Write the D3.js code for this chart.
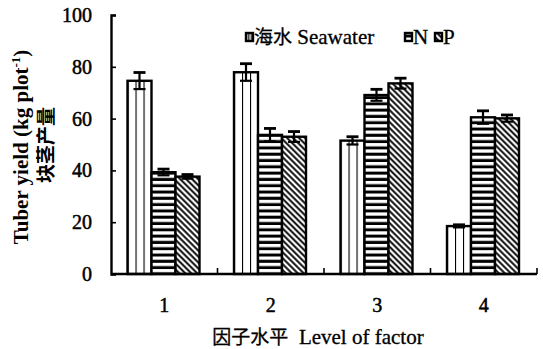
<!DOCTYPE html>
<html>
<head>
<meta charset="utf-8">
<script src="https://cdn.jsdelivr.net/npm/d3@7"></script>
<style>
  body { margin: 0; background: #fff; }
  svg { display: block; }
</style>
</head>
<body>
<div id="chart"></div>
<script>
const levels = ["1", "2", "3", "4"]
const seriesNames = ["Seawater", "N", "P"]
const seawater = [74.6, 77.9, 51.5, 18.5]
const nitrogen = [39.3, 53.7, 69.1, 60.5]
const phosphorus = [37.6, 53, 73.6, 60.1]
const seawaterErr = [3.2, 3.3, 1.5, 0.5]
const nitrogenErr = [1.2, 2.5, 2.2, 2.5]
const phosphorusErr = [0.8, 2, 2, 1.3]
const yTicks = [0, 20, 40, 60, 80, 100]

const width = 543, height = 349
const margin = ({top: 15, right: 6, bottom: 75, left: 111})

const serif = "'Liberation Serif', 'Times New Roman', serif"
const cjk = "'Noto Sans CJK SC', sans-serif"

const svg = d3.create("svg")
    .attr("width", width)
    .attr("height", height)
    .attr("viewBox", [0, 0, width, height])
d3.select("#chart").append(() => svg.node())

// hatch patterns
const defs = svg.append("defs")

// seawater: two vertical lines splitting the bar in thirds
const pSea = defs.append("pattern")
    .attr("id", "pat-sea")
    .attr("patternUnits", "objectBoundingBox")
    .attr("width", 1 / 3).attr("height", 1)
pSea.append("rect").attr("width", 40).attr("height", 400).attr("fill", "#fff")
pSea.append("line").attr("x1", 0).attr("x2", 0).attr("y1", 0).attr("y2", 400)
    .attr("stroke", "#000").attr("stroke-width", 2.2)

const pN = defs.append("pattern")
    .attr("id", "pat-n")
    .attr("patternUnits", "userSpaceOnUse")
    .attr("width", 6).attr("height", 6.3)
pN.append("rect").attr("width", 6).attr("height", 6.3).attr("fill", "#fff")
pN.append("line").attr("x1", 0).attr("x2", 6).attr("y1", 3).attr("y2", 3)
    .attr("stroke", "#000").attr("stroke-width", 3)

const pP = defs.append("pattern")
    .attr("id", "pat-p")
    .attr("patternUnits", "userSpaceOnUse")
    .attr("width", 4.2).attr("height", 4.2)
    .attr("patternTransform", "rotate(-45)")
pP.append("rect").attr("width", 4.2).attr("height", 4.2).attr("fill", "#fff")
pP.append("line").attr("x1", 2.1).attr("x2", 2.1).attr("y1", 0).attr("y2", 4.2)
    .attr("stroke", "#000").attr("stroke-width", 1.9)

const fills = ["url(#pat-sea)", "url(#pat-n)", "url(#pat-p)"]

const data = levels.map((lv, i) => ({
  level: lv,
  values: [
    {key: "Seawater", v: seawater[i], e: seawaterErr[i]},
    {key: "N", v: nitrogen[i], e: nitrogenErr[i]},
    {key: "P", v: phosphorus[i], e: phosphorusErr[i]}
  ]
}))

const x = d3.scaleBand()
    .domain(levels)
    .range([margin.left, width - margin.right])
    .padding(0)

const xs = d3.scaleBand()
    .domain(seriesNames)
    .range([16.5, 16.5 + 72])
    .padding(0)

const y = d3.scaleLinear()
    .domain([0, 100])
    .range([height - margin.bottom, margin.top])

// bars
const groups = svg.append("g")
  .selectAll("g")
  .data(data)
  .join("g")
    .attr("transform", d => `translate(${x(d.level)},0)`)

groups.selectAll("rect")
  .data(d => d.values)
  .join("rect")
    .attr("x", d => xs(d.key))
    .attr("y", d => y(d.v))
    .attr("width", xs.bandwidth())
    .attr("height", d => y(0) - y(d.v))
    .attr("fill", (d, i) => fills[i])
    .attr("stroke", "#000")
    .attr("stroke-width", 2.4)

// error bars
const err = groups.selectAll(".err")
  .data(d => d.values)
  .join("g")
    .attr("class", "err")
    .attr("stroke", "#000")
    .attr("stroke-width", 2.2)
const cx = d => xs(d.key) + xs.bandwidth() / 2
err.append("line")
    .attr("x1", cx).attr("x2", cx)
    .attr("y1", d => y(d.v - d.e))
    .attr("y2", d => y(d.v + d.e))
err.append("line")
    .attr("x1", d => cx(d) - 6).attr("x2", d => cx(d) + 6)
    .attr("y1", d => y(d.v + d.e))
    .attr("y2", d => y(d.v + d.e))
    .attr("stroke-width", 2.8)
err.append("line")
    .attr("x1", d => cx(d) - 6).attr("x2", d => cx(d) + 6)
    .attr("y1", d => y(d.v - d.e))
    .attr("y2", d => y(d.v - d.e))

// y axis, inward ticks
const yAxis = svg.append("g")
    .attr("transform", `translate(${margin.left},0)`)
    .call(d3.axisLeft(y).tickValues(yTicks).tickSize(-5).tickPadding(19))
yAxis.select(".domain").attr("stroke-width", 2.4)
yAxis.selectAll(".tick line").attr("stroke-width", 1.6)
yAxis.selectAll("text")
    .attr("font-family", serif)
    .attr("font-size", 20)
    .attr("fill", "#000")
    .attr("stroke", "#000")
    .attr("stroke-width", 0.5)

// x axis: ticks at band boundaries, pointing up
const xAxis = svg.append("g")
    .attr("transform", `translate(0,${y(0)})`)
xAxis.append("line")
    .attr("x1", margin.left).attr("x2", width - margin.right)
    .attr("stroke", "#000").attr("stroke-width", 2.4)
xAxis.selectAll(".xtick")
  .data(levels)
  .join("line")
    .attr("class", "xtick")
    .attr("x1", d => x(d) + x.bandwidth())
    .attr("x2", d => x(d) + x.bandwidth())
    .attr("y1", 0).attr("y2", -6)
    .attr("stroke", "#000").attr("stroke-width", 1.6)
xAxis.selectAll(".xlab")
  .data(levels)
  .join("text")
    .attr("class", "xlab")
    .attr("x", d => x(d) + x.bandwidth() / 2)
    .attr("y", 38)
    .attr("text-anchor", "middle")
    .attr("font-family", serif)
    .attr("font-size", 20)
    .attr("stroke", "#000")
    .attr("stroke-width", 0.5)
    .text(d => d)

// axis titles
const xTitle = svg.append("text")
    .attr("x", 318)
    .attr("y", 344)
    .attr("text-anchor", "middle")
    .attr("font-size", 21)
    .attr("stroke", "#000")
    .attr("stroke-width", 0.3)
xTitle.append("tspan").attr("font-family", cjk).attr("font-size", 19).text("因子水平")
xTitle.append("tspan").attr("font-family", serif).text("\u00a0\u00a0Level of factor")

const yTitle = svg.append("text")
    .attr("transform", "translate(28,147) rotate(-90)")
    .attr("text-anchor", "middle")
    .attr("font-family", serif)
    .attr("font-weight", "bold")
    .attr("font-size", 21)
yTitle.append("tspan").text("Tuber yield (kg plot")
yTitle.append("tspan").attr("dy", -8).attr("font-size", 13).text("-1")
yTitle.append("tspan").attr("dy", 8).text(")")

svg.append("text")
    .attr("transform", "translate(53,145) rotate(-90)")
    .attr("text-anchor", "middle")
    .attr("font-family", cjk)
    .attr("font-weight", "bold")
    .attr("font-size", 19)
    .text("块茎产量")

// legend
const legendItems = [
  {zh: "海水", en: "\u00a0Seawater", x: 245},
  {zh: "", en: "N", x: 404},
  {zh: "", en: "P", x: 434}
]
const legend = svg.append("g")
  .selectAll("g")
  .data(legendItems)
  .join("g")
    .attr("transform", d => `translate(${d.x},33)`)
legend.append("rect")
    .attr("x", 1).attr("y", 0)
    .attr("width", 7).attr("height", 8)
    .attr("fill", (d, i) => fills[i])
    .attr("stroke", "#000").attr("stroke-width", 2.4)
const legendText = legend.append("text")
    .attr("x", 9)
    .attr("y", 11)
    .attr("font-size", 21)
    .attr("stroke", "#000")
    .attr("stroke-width", 0.3)
legendText.append("tspan").attr("font-family", cjk).attr("font-size", 19).text(d => d.zh)
legendText.append("tspan").attr("font-family", serif).text(d => d.en)
</script>
</body>
</html>
